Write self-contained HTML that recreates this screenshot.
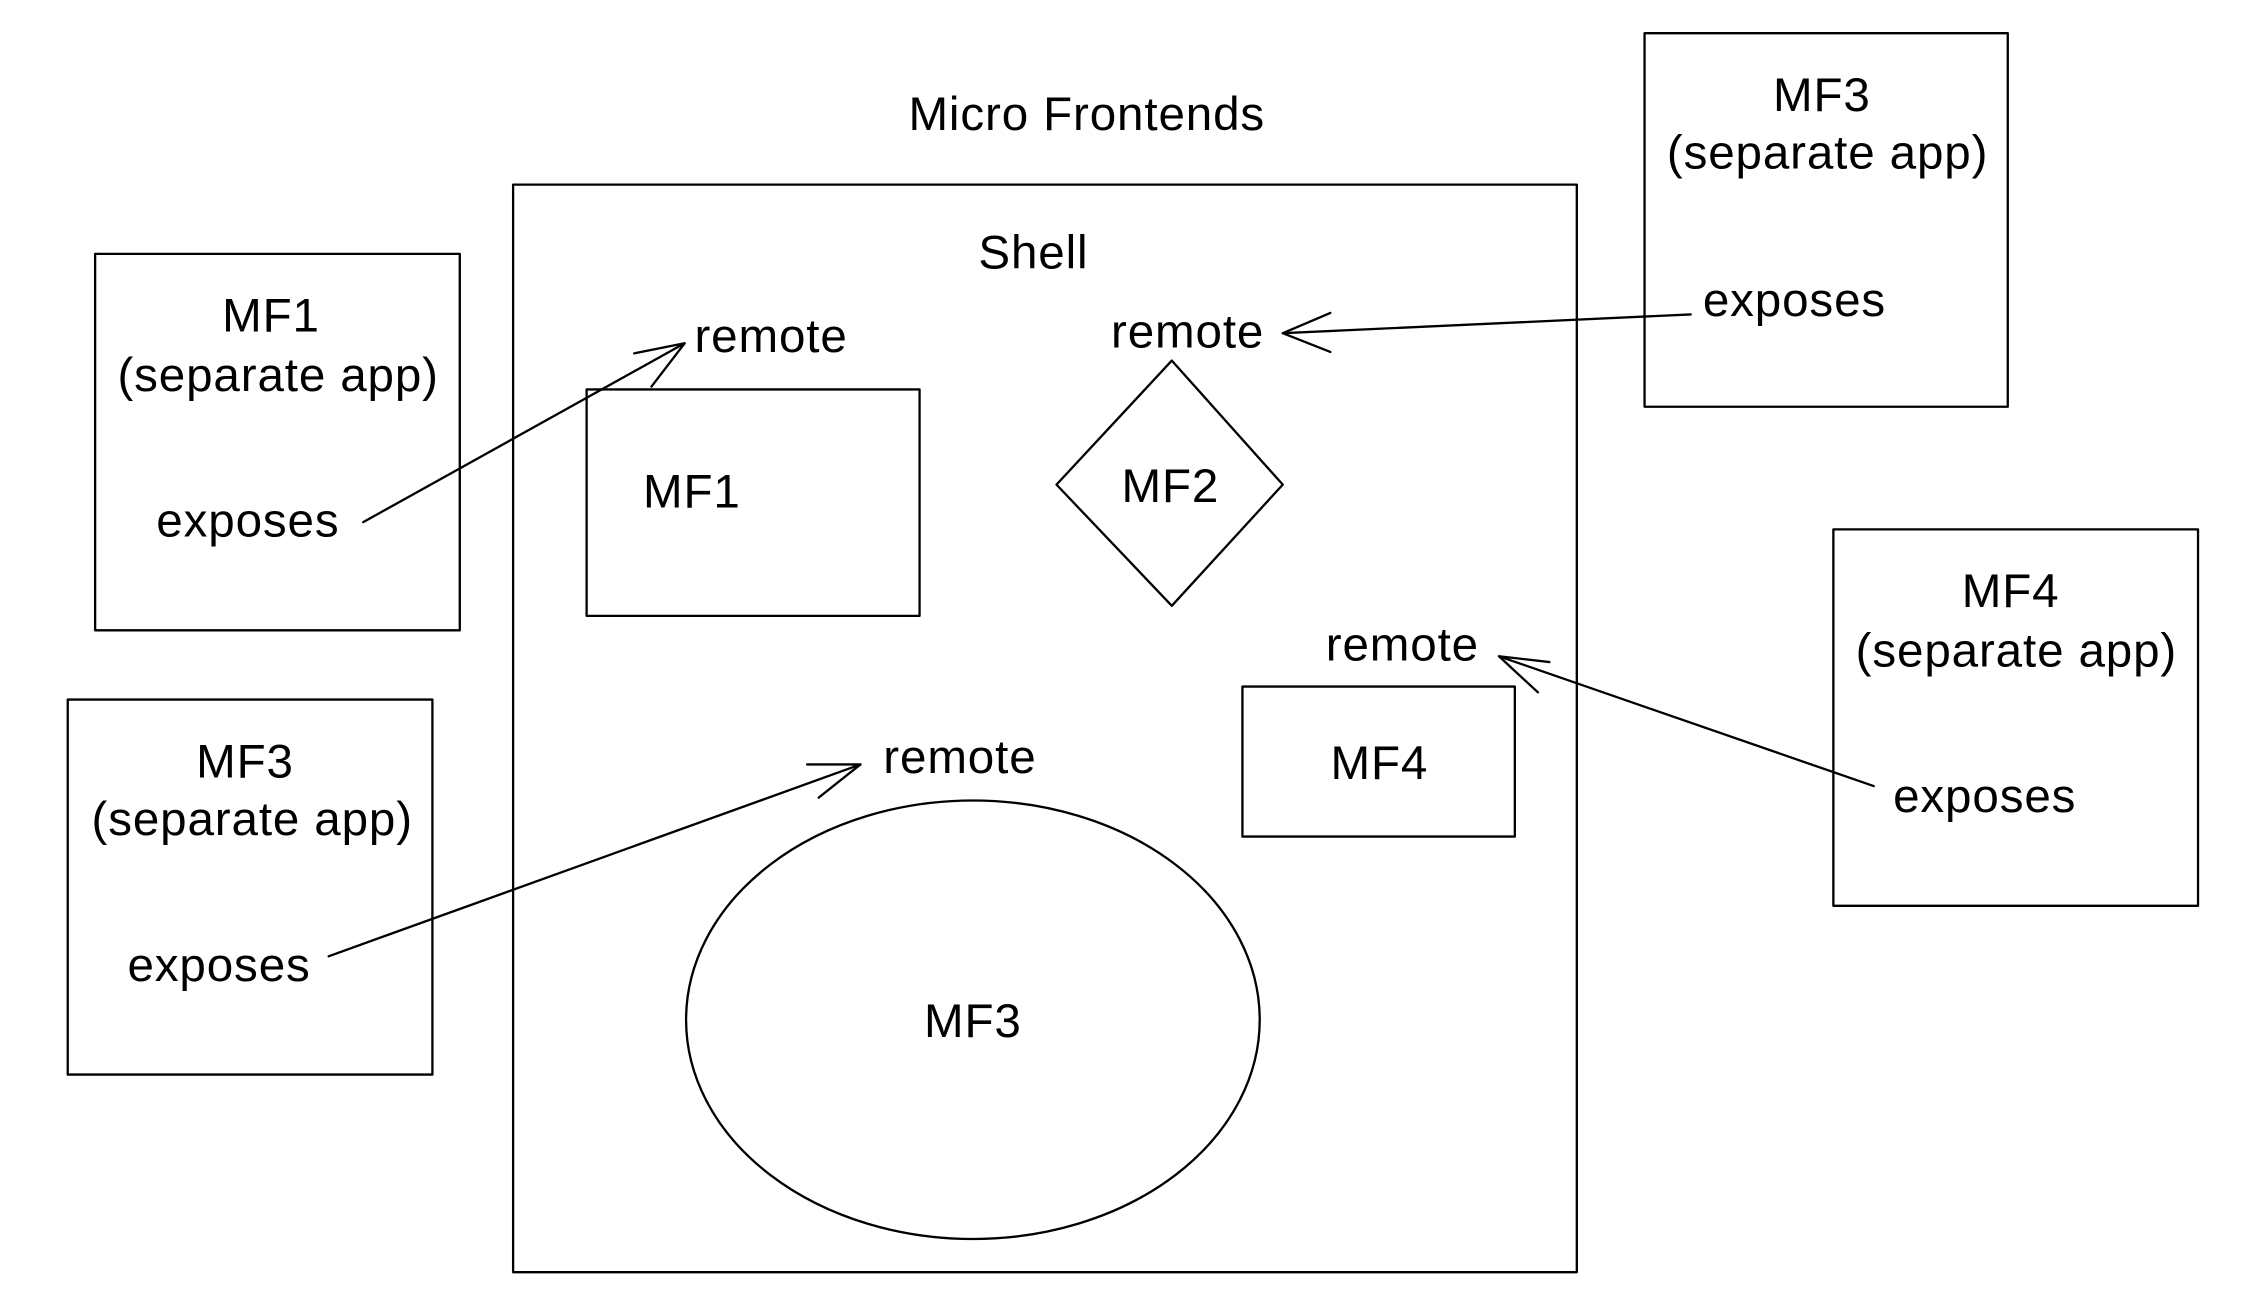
<!DOCTYPE html>
<html><head><meta charset="utf-8"><style>
html,body{margin:0;padding:0;background:#fff;width:2260px;height:1314px;overflow:hidden}
svg{display:block}
text{font-family:"Liberation Sans",sans-serif;font-size:33px;letter-spacing:0.6px;fill:#000;text-anchor:middle}
</style></head><body>
<svg width="2260" height="1314" viewBox="0 0 1568 911" preserveAspectRatio="none" xmlns="http://www.w3.org/2000/svg">
<g fill="none" stroke="#000" stroke-width="1.6" stroke-linecap="round" stroke-linejoin="round">
<rect x="356" y="128" width="738" height="754"/>
<rect x="66" y="176" width="253" height="261"/>
<rect x="47" y="485" width="253" height="260"/>
<rect x="1141" y="23" width="252" height="259"/>
<rect x="1272" y="367" width="253" height="261"/>
<rect x="407" y="270" width="231" height="157"/>
<polygon points="813,250 890,336 813,420 733,336"/>
<rect x="862" y="476" width="189" height="104"/>
<ellipse cx="675" cy="707" rx="199" ry="152"/>
<line x1="252" y1="362" x2="475" y2="238"/><polyline points="440,245 475,238 452,268"/>
<line x1="1173" y1="218" x2="890" y2="231"/><polyline points="923,217 890,231 923,244"/>
<line x1="1300" y1="545" x2="1040" y2="455"/><polyline points="1075,459 1040,455 1067,480"/>
<line x1="228" y1="663" x2="597" y2="530"/><polyline points="560,530 597,530 568,553"/>
</g>
<text x="754" y="90">Micro Frontends</text>
<text x="717" y="186">Shell</text>
<text x="188" y="230">MF1</text>
<text x="193" y="271">(separate app)</text>
<text x="172" y="372">exposes</text>
<text x="170" y="539">MF3</text>
<text x="175" y="579">(separate app)</text>
<text x="152" y="680">exposes</text>
<text x="1264" y="77">MF3</text>
<text x="1268" y="117">(separate app)</text>
<text x="1245" y="219">exposes</text>
<text x="1395" y="421">MF4</text>
<text x="1399" y="462">(separate app)</text>
<text x="1377" y="563">exposes</text>
<text x="535" y="244">remote</text>
<text x="480" y="352">MF1</text>
<text x="824" y="241">remote</text>
<text x="812" y="348">MF2</text>
<text x="973" y="458">remote</text>
<text x="957" y="540">MF4</text>
<text x="666" y="536">remote</text>
<text x="675" y="719">MF3</text>
</svg>
</body></html>
